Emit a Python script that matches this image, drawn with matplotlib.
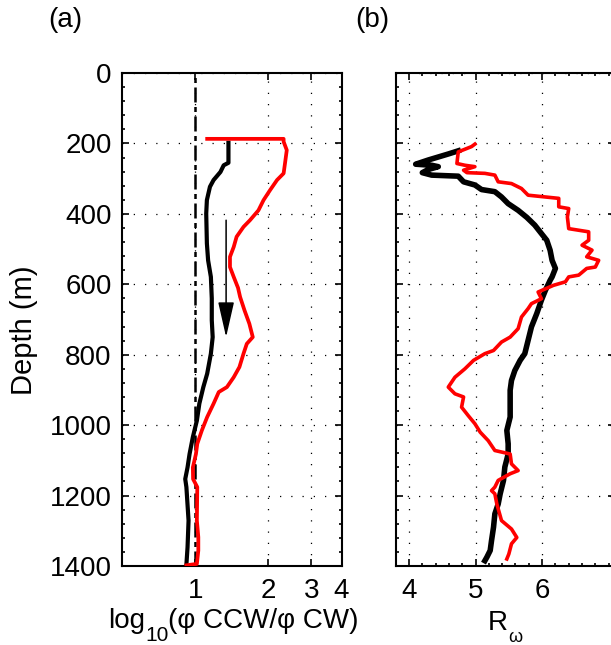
import matplotlib
matplotlib.use("Agg")
import matplotlib.pyplot as plt
from matplotlib.ticker import MultipleLocator, FixedLocator, NullLocator, FixedFormatter

plt.rcParams['font.family'] = ['Liberation Sans', 'DejaVu Sans']
plt.rcParams['font.size'] = 20

# ---- data: panel (a) ----
black_a_depth = [198, 230, 255, 262, 281, 304, 323, 361, 399, 484, 532, 579, 640, 702, 750,
                 797, 854, 892, 939, 987, 1034, 1082, 1120, 1153, 1176, 1271, 1347, 1396]
black_a_val = [1.37, 1.37, 1.37, 1.31, 1.27, 1.19, 1.15, 1.117, 1.11, 1.117, 1.13, 1.16, 1.17,
               1.17, 1.18, 1.16, 1.12, 1.08, 1.04, 1.016, 0.978, 0.948, 0.93, 0.91, 0.92, 0.939,
               0.93, 0.92]
red_a_depth = [187, 187, 195, 219, 257, 285, 304, 333, 361, 390, 418, 437, 465, 494, 522, 551,
               579, 610, 636, 674, 712, 750, 769, 797, 835, 864, 892, 906, 939, 977, 1015, 1053,
               1082, 1120, 1153, 1176, 1271, 1318, 1356, 1394, 1398]
red_a_val = [1.12, 2.31, 2.31, 2.38, 2.34, 2.31, 2.17, 2.03, 1.91, 1.82, 1.68, 1.58, 1.48, 1.44,
             1.39, 1.39, 1.44, 1.50, 1.53, 1.595, 1.67, 1.725, 1.63, 1.58, 1.52, 1.44, 1.35, 1.25,
             1.19, 1.12, 1.065, 1.02, 1.007, 0.978, 0.98, 1.02, 1.016, 1.03, 1.03, 1.016, 0.92]
arrow_x = 1.34
arrow_from = 418
arrow_to = 750

# ---- data: panel (b) ----
black_b_depth = [221, 230, 247, 259, 262, 266, 274, 283, 290, 293, 309, 318, 331, 337, 352, 371,
                 390, 410, 432, 456, 475, 503, 532, 555, 579, 589, 617, 645, 683, 721, 759, 797,
                 816, 845, 873, 901, 939, 977, 1015, 1053, 1082, 1119, 1157, 1195, 1224, 1252,
                 1290, 1328, 1356, 1375, 1385]
black_b_val = [4.74, 4.59, 4.29, 4.10, 4.34, 4.44, 4.29, 4.20, 4.34, 4.74, 4.82, 4.99, 5.09, 5.29,
               5.39, 5.49, 5.64, 5.77, 5.89, 5.99, 6.07, 6.12, 6.15, 6.20, 6.15, 6.12, 6.05, 5.99,
               5.92, 5.84, 5.79, 5.74, 5.67, 5.59, 5.54, 5.52, 5.52, 5.52, 5.47, 5.49, 5.49, 5.44,
               5.42, 5.37, 5.34, 5.29, 5.27, 5.24, 5.22, 5.17, 5.14]
red_b_depth = [202, 209, 224, 257, 262, 266, 276, 283, 285, 290, 309, 314, 328, 347, 356, 380,
               385, 409, 442, 451, 475, 489, 503, 522, 532, 551, 555, 574, 579, 593, 603, 622,
               641, 655, 669, 693, 726, 750, 764, 788, 797, 816, 840, 864, 892, 911, 920, 949,
               973, 996, 1020, 1044, 1072, 1082, 1110, 1129, 1138, 1157, 1176, 1186, 1195, 1224,
               1271, 1295, 1319, 1337, 1366, 1380]
red_b_val = [4.99, 4.94, 4.74, 4.72, 4.84, 4.99, 4.82, 4.87, 5.14, 5.29, 5.34, 5.54, 5.69, 5.79,
             6.25, 6.25, 6.40, 6.38, 6.40, 6.70, 6.70, 6.60, 6.75, 6.67, 6.85, 6.80, 6.67, 6.55,
             6.40, 6.35, 6.17, 5.94, 5.99, 5.84, 5.79, 5.69, 5.64, 5.52, 5.39, 5.27, 5.14, 4.97,
             4.84, 4.69, 4.59, 4.69, 4.82, 4.79, 4.89, 4.99, 5.07, 5.19, 5.29, 5.52, 5.54, 5.64,
             5.52, 5.34, 5.29, 5.24, 5.29, 5.32, 5.39, 5.54, 5.62, 5.54, 5.50, 5.47]

depth_ticks = [0, 200, 400, 600, 800, 1000, 1200, 1400]
a_ticks = [1, 2, 3, 4]
b_ticks = [4, 5, 6]

W, H = 611, 645
fig = plt.figure(figsize=(W / 100, H / 100), dpi=100)
axw = 219.6 / W
axh = (566 - 73) / H
axa = fig.add_axes([122 / W, 1 - 566 / H, axw, axh])
axb = fig.add_axes([395.7 / W, 1 - 566 / H, axw, axh])

grid_kw = dict(color='k', lw=0.9, linestyle=(0, (1, 8)))

for ax in (axa, axb):
    ax.set_ylim(1400, 0)
    ax.yaxis.set_major_locator(FixedLocator(depth_ticks))
    ax.yaxis.set_minor_locator(MultipleLocator(40))
    ax.tick_params(which='both', direction='in', top=True, right=True, width=1.2)
    ax.tick_params(which='major', length=5)
    ax.tick_params(which='minor', length=2.5)
    ax.tick_params(axis='y', pad=7.5)
    ax.tick_params(axis='x', pad=8.5)
    for s in ax.spines.values():
        s.set_linewidth(1.5)
    ax.grid(True, which='major', **grid_kw)
    ax.set_axisbelow(True)

# panel (a)
axa.set_xscale('log')
axa.set_xlim(0.5, 4)
axa.xaxis.set_major_locator(FixedLocator(a_ticks))
axa.xaxis.set_major_formatter(FixedFormatter([str(t) for t in a_ticks]))
axa.xaxis.set_minor_locator(NullLocator())
axa.axvline(1, color='k', lw=1.8, linestyle=(0, (6, 1.8, 2, 1.8)), zorder=2)
axa.plot(black_a_val, black_a_depth, color='k', lw=3.0, zorder=3)
axa.plot(red_a_val, red_a_depth, color='#ff0000', lw=2.7, zorder=3)
axa.annotate('', xy=(arrow_x, arrow_to), xytext=(arrow_x, arrow_from),
             arrowprops=dict(arrowstyle='-|>,head_length=1.1,head_width=0.25',
                             color='k', lw=1.1, mutation_scale=20, shrinkA=0, shrinkB=0),
             zorder=4)

# panel (b)
axb.set_xlim(3.8, 7.1)
axb.xaxis.set_major_locator(FixedLocator(b_ticks))
axb.xaxis.set_minor_locator(MultipleLocator(0.2))
axb.tick_params(axis='y', labelleft=False)
axb.plot(black_b_val, black_b_depth, color='k', lw=4.0, zorder=3)
axb.plot(red_b_val, red_b_depth, color='#ff0000', lw=2.6, zorder=3)

renderer = fig.canvas.get_renderer()


def compose(x0_px, parts):
    """parts: list of (text, fontsize, baseline_px)"""
    x = x0_px
    for txt, fs, yb in parts:
        t = fig.text(x / W, 1 - yb / H, txt, fontsize=fs, ha='left', va='baseline')
        bb = t.get_window_extent(renderer)
        x = bb.x1


compose(108, [('log', 20, 628), ('10', 15, 641), ('(φ CCW/φ CW)', 20, 628)])
compose(488, [('R', 20, 630), ('ω', 13, 642)])

fig.text(24 / W, 1 - 330 / H, 'Depth (m)', rotation=90, ha='center', va='center', fontsize=21)
fig.text(65 / W, 1 - 20 / H, '(a)', ha='center', va='center', fontsize=20)
fig.text(372 / W, 1 - 20 / H, '(b)', ha='center', va='center', fontsize=20)

fig.savefig('out.png', dpi=100)
